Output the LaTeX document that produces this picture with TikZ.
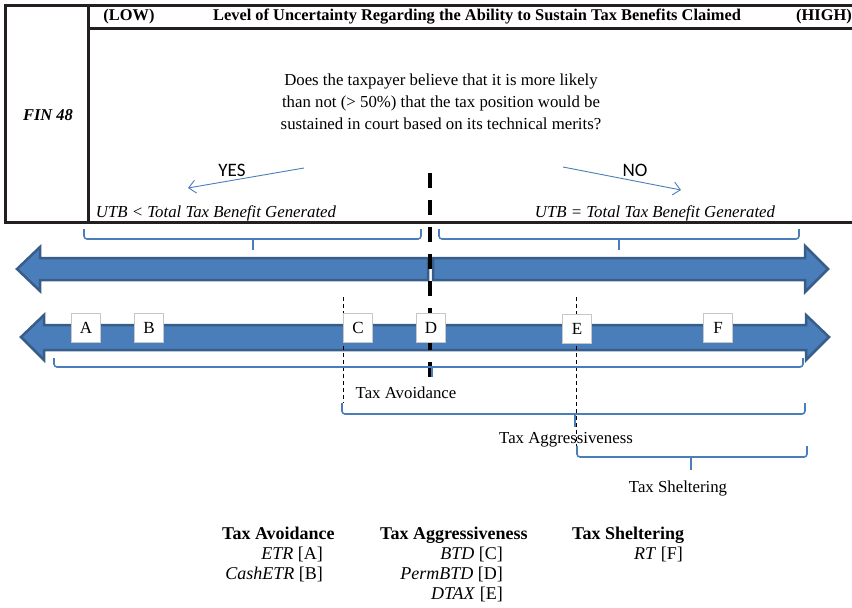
\documentclass[tikz,border=0pt]{standalone}
\usepackage{fontspec}
\setmainfont{Liberation Serif}
\newfontfamily\yesnofont{Carlito}
\usetikzlibrary{arrows.meta}
\definecolor{barblue}{RGB}{74,126,187}
\definecolor{bardark}{RGB}{56,93,138}
\definecolor{framegray}{RGB}{35,31,32}
\tikzstyle{frame}=[draw=framegray, line width=3pt]
\tikzstyle{bar}=[fill=barblue, draw=bardark, line width=2.5pt]
\tikzstyle{brace}=[draw=barblue, line width=1.6pt, rounded corners=3pt]
\tikzstyle{arrow}=[draw=barblue, line width=0.9pt, -{Straight Barb[length=7pt,width=13pt]}]
\tikzstyle{thindash}=[draw, line width=0.8pt, dash pattern=on 4pt off 3pt]
\tikzstyle{thickdash}=[draw, line width=3.5pt, dash pattern=on 15pt off 12pt]
\tikzstyle{letterbox}=[draw=black!22, fill=white, line width=1pt, minimum width=29pt, minimum height=29pt, inner sep=0pt, font=\fontsize{17}{17}\selectfont]
\tikzstyle{headtext}=[font=\bfseries\fontsize{16.4}{18}\selectfont, inner sep=0pt]
\tikzstyle{bodytext}=[font=\fontsize{16.8}{22}\selectfont, inner sep=0pt]
\tikzstyle{legendtext}=[font=\fontsize{18}{20}\selectfont, inner sep=0pt]
\tikzstyle{yesno}=[font=\yesnofont\fontsize{19}{19}\selectfont, inner sep=0pt]

\begin{document}
\begin{tikzpicture}[x=1pt, y=-1pt]
\useasboundingbox (0,0) rectangle (852,608);
% table with the FIN 48 test
\draw[frame] (852,5) -- (5,5) -- (5,222) -- (852,222);
\draw[frame] (88,5) -- (88,222);
\draw[frame] (88,28) -- (852,28);
\node[headtext] (low) at (129,17) {(LOW)};
\node[headtext] (level) at (477,17) {Level of Uncertainty Regarding the Ability to Sustain Tax Benefits Claimed};
\node[headtext] (high) at (824,17) {(HIGH)};
\node[bodytext, font=\bfseries\itshape\fontsize{16.5}{18}\selectfont] (fin) at (48,115) {FIN 48};
\node[bodytext, align=center] (question) at (441,102) {Does the taxpayer believe that it is more likely\\
than not (> 50\%) that the tax position would be\\
sustained in court based on its technical merits?};
\node[yesno] (yes) at (232,170) {YES};
\node[yesno] (no) at (635,170) {NO};
\coordinate (yesfrom) at (304,168);
\coordinate (yesto) at (188,188);
\coordinate (nofrom) at (563,167);
\coordinate (noto) at (681,190);
\draw[arrow] (yesfrom) -- (yesto);
\draw[arrow] (nofrom) -- (noto);
\node[bodytext, font=\itshape\fontsize{16.8}{20}\selectfont] (utbless) at (216,213) {UTB < Total Tax Benefit Generated};
\node[bodytext, font=\itshape\fontsize{16.8}{20}\selectfont] (utbequal) at (655,213) {UTB = Total Tax Benefit Generated};
% upper braces
\draw[brace] (84,229) -- (84,239) -- (421,239) -- (421,229);
\draw[brace] (253,239) -- (253,250);
\draw[brace] (439,229) -- (439,239) -- (799,239) -- (799,229);
\draw[brace] (619,239) -- (619,250);
% the two halves of the upper bar
\draw[bar] (428,258) -- (40,258) -- (40,247) -- (17,269) -- (40,291) -- (40,280) -- (428,280) -- cycle;
\draw[bar] (433,258) -- (805,258) -- (805,246) -- (828,269) -- (805,292) -- (805,280) -- (433,280) -- cycle;
% lower bar
\draw[bar] (44,325) -- (806,325) -- (806,315) -- (829,337) -- (806,360) -- (806,350) -- (44,350) -- (44,360) -- (21,337) -- (44,315) -- cycle;
% dashed dividers
\draw[thickdash] (430,173) -- (430,380);
\draw[thindash] (343,297) -- (343,403);
\draw[thindash] (576,297) -- (576,447);
\foreach \name/\x/\y in {A/86/328, B/149/328, C/358/328, D/431/328, E/577/329, F/718/328} % edit here for the boxes
\node[letterbox] (box\name) at (\x,\y) {\name};
% lower braces
\draw[brace] (54,358) -- (54,367) -- (803,367) -- (803,358);
\draw[brace] (432,367) -- (432,377);
\draw[brace] (342,403) -- (342,414) -- (805,414) -- (805,403);
\draw[brace] (575,414) -- (575,427);
\draw[brace] (577,446) -- (577,457) -- (807,457) -- (807,446);
\draw[brace] (691,457) -- (691,470);
\node[bodytext] (avoidlabel) at (406,393) {Tax Avoidance};
\node[bodytext] (aggrlabel) at (566,440) {Tax Aggressiveness};
\node[bodytext] (shelterlabel) at (678,488) {Tax Sheltering};
% legend
\node[legendtext, font=\bfseries\fontsize{18}{20}\selectfont, anchor=base west] (avoidhead) at (222,539) {Tax Avoidance};
\node[legendtext, anchor=base east] (etr) at (323,559) {\textit{ETR} [A]};
\node[legendtext, anchor=base east] (cashetr) at (323,579) {\textit{CashETR} [B]};
\node[legendtext, font=\bfseries\fontsize{18}{20}\selectfont, anchor=base west] (aggrhead) at (380,539) {Tax Aggressiveness};
\node[legendtext, anchor=base east] (btd) at (503,559) {\textit{BTD} [C]};
\node[legendtext, anchor=base east] (permbtd) at (503,579) {\textit{PermBTD} [D]};
\node[legendtext, anchor=base east] (dtax) at (503,599) {\textit{DTAX} [E]};
\node[legendtext, font=\bfseries\fontsize{18}{20}\selectfont, anchor=base west] (shelterhead) at (572,539) {Tax Sheltering};
\node[legendtext, anchor=base east] (rt) at (683,559) {\textit{RT} [F]};
\end{tikzpicture}
\end{document}
